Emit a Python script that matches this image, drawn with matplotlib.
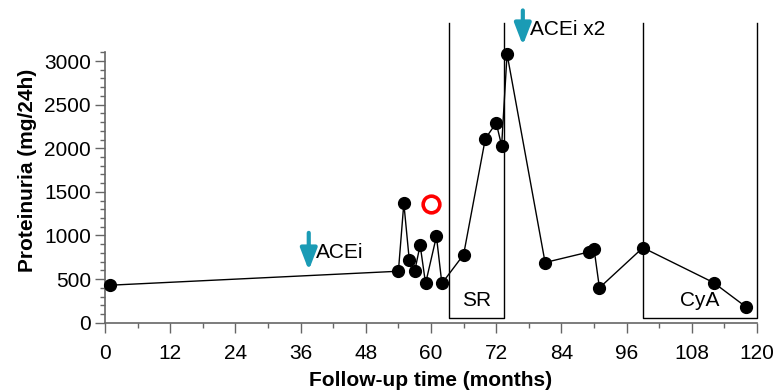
import matplotlib
matplotlib.use("Agg")
from matplotlib import pyplot as plt
from matplotlib.ticker import MultipleLocator

plt.rcParams['font.family'] = ['Liberation Sans', 'DejaVu Sans']

# follow-up time (months) and proteinuria (mg/24h)
months = [1, 54, 55, 56, 57, 58, 59, 61, 62, 66, 70, 72, 73, 74,
          81, 89, 90, 91, 99, 112, 118]
proteinuria = [430, 590, 1370, 720, 590, 890, 450, 990, 450, 780, 2110, 2290, 2030, 3080,
               690, 810, 850, 400, 860, 460, 180]

# separate measurement (red open circle)
extra_month = [60]
extra_value = [1360]

# treatment periods: start, end, label
period_start = [63.4, 99]
period_end = [73.4, 120]
period_label = ['SR', 'CyA']
period_label_x = [68.4, 109.5]

# arrows: month, label
arrow_month = [37.5, 76.9]
arrow_label = ['ACEi', 'ACEi x2']
arrow_tail = [1030, 3580]
arrow_tip = [600, 3180]

GRAY = '#666666'
TEAL = '#1a9bb5'
FS = 15

fig = plt.figure(figsize=(7.74, 3.92), dpi=100)
ax = fig.add_axes([105/774, 1-322.7/392, 652/774, 270.4/392])

# boxes for treatment periods
for start, end, label, lx in zip(period_start, period_end, period_label, period_label_x):
    ybot, ytop = 55, 3440
    ax.plot([start, start, end, end], [ytop, ybot, ybot, ytop], color='black',
            lw=1.0, clip_on=False, zorder=1)
    ax.text(lx, 260, label, ha='center', va='center', fontsize=FS)

# main series
ax.plot(months, proteinuria, color='black', lw=1.0, marker='o', markersize=8.5,
        clip_on=False, zorder=3)
ax.plot(extra_month, extra_value, linestyle='none', marker='o', markersize=12,
        markerfacecolor='white', markeredgecolor='red', markeredgewidth=2.6,
        clip_on=False, zorder=3)

# arrows
for xm, label, ytail, ytip in zip(arrow_month, arrow_label, arrow_tail, arrow_tip):
    ax.annotate('', xy=(xm, ytip), xytext=(xm, ytail),
                arrowprops=dict(arrowstyle='-|>,head_width=0.5,head_length=1.3',
                                color=TEAL, lw=3, shrinkA=0, shrinkB=0),
                annotation_clip=False)
    ax.text(xm + 1.4, ytail - 220, label, ha='left', va='center',
            fontsize=FS, clip_on=False)

ax.set_xlim(0, 120)
ax.set_ylim(0, 3100)
ax.xaxis.set_major_locator(MultipleLocator(12))
ax.xaxis.set_minor_locator(MultipleLocator(6))
ax.yaxis.set_major_locator(MultipleLocator(500))
ax.yaxis.set_minor_locator(MultipleLocator(100))

for side in ['top', 'right']:
    ax.spines[side].set_visible(False)
for side in ['left', 'bottom']:
    ax.spines[side].set_color(GRAY)
    ax.spines[side].set_linewidth(1.2)

ax.tick_params(axis='both', which='major', labelsize=FS, color=GRAY, width=1, length=7)
ax.tick_params(axis='both', which='minor', color=GRAY, width=1, length=3.6)
ax.tick_params(axis='x', which='major', pad=8)
ax.tick_params(axis='y', which='major', pad=3)

ax.set_xlabel('Follow-up time (months)', fontsize=FS, fontweight='bold', labelpad=6)
ax.set_ylabel('Proteinuria (mg/24h)', fontsize=FS, fontweight='bold')
ax.yaxis.set_label_coords(-0.104, 0.563)

plt.savefig('out.png', dpi=100)
